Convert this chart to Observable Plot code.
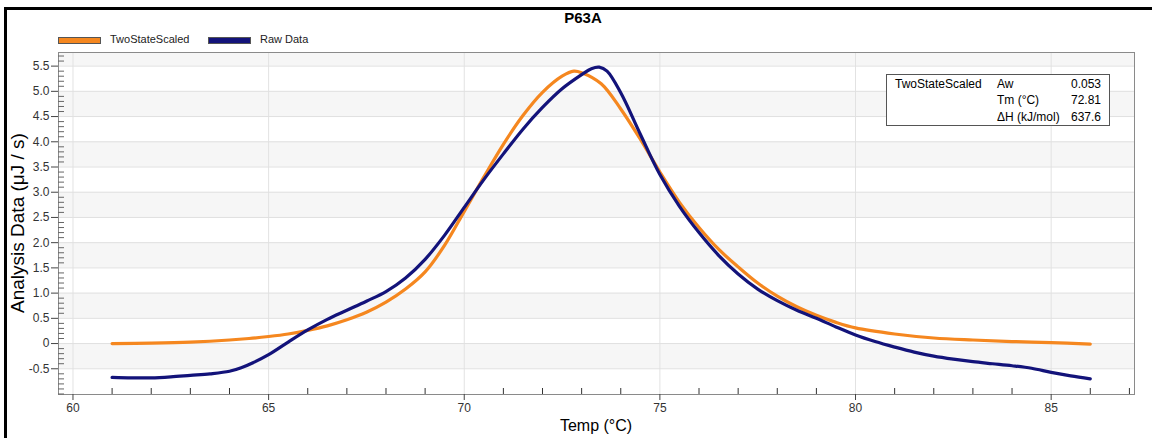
<!DOCTYPE html>
<html>
<head>
<meta charset="utf-8">
<script src="https://cdn.jsdelivr.net/npm/d3@7"></script>
<script src="https://cdn.jsdelivr.net/npm/@observablehq/plot@0.6"></script>
<style>
  html, body { margin: 0; padding: 0; background: #fff; }
  body { font-family: "Liberation Sans", Arial, sans-serif; }
  #wrap { position: relative; width: 1152px; height: 438px; overflow: hidden; }
  #wrap svg { position: absolute; left: 0; top: 0; }
  .ov { position: absolute; white-space: nowrap; color: #000; }
</style>
</head>
<body>
<div id="wrap"></div>
<script>
// ---- data ----
const title = "P63A";
const seriesNames = ["TwoStateScaled", "Raw Data"];
const seriesColors = ["#f5871f", "#13137a"];

const fitTemp = [61, 62, 63, 64, 64.5, 65, 65.5, 66, 66.5, 67, 67.5, 68, 68.5, 69, 69.5, 70, 70.5, 71, 71.5, 72, 72.5, 72.8, 73, 73.5, 74, 74.5, 75, 75.5, 76, 76.5, 77, 77.5, 78, 78.5, 79, 79.5, 80, 81, 82, 83, 84, 85, 86];
const fitValue = [0.00, 0.01, 0.03, 0.07, 0.10, 0.14, 0.19, 0.26, 0.35, 0.47, 0.62, 0.82, 1.08, 1.42, 1.95, 2.62, 3.30, 3.95, 4.52, 4.98, 5.30, 5.40, 5.37, 5.15, 4.65, 4.05, 3.40, 2.80, 2.30, 1.87, 1.52, 1.20, 0.94, 0.73, 0.56, 0.42, 0.31, 0.19, 0.11, 0.07, 0.04, 0.02, -0.01];

const rawTemp = [61, 61.5, 62, 62.5, 63, 63.5, 64, 64.3, 64.6, 65, 65.5, 66, 66.5, 67, 67.5, 68, 68.5, 69, 69.5, 70, 70.5, 71, 71.5, 72, 72.5, 73, 73.25, 73.45, 73.65, 74, 74.5, 75, 75.5, 76, 76.5, 77, 77.5, 78, 78.5, 79, 79.5, 80, 80.5, 81, 81.5, 82, 82.5, 83, 83.5, 84, 84.5, 85, 85.5, 86];
const rawValue = [-0.67, -0.68, -0.68, -0.66, -0.63, -0.60, -0.55, -0.48, -0.38, -0.22, 0.03, 0.27, 0.48, 0.66, 0.84, 1.03, 1.30, 1.67, 2.15, 2.70, 3.25, 3.76, 4.25, 4.68, 5.05, 5.33, 5.45, 5.48, 5.40, 4.97, 4.15, 3.35, 2.72, 2.20, 1.75, 1.38, 1.08, 0.85, 0.66, 0.50, 0.33, 0.17, 0.04, -0.07, -0.17, -0.25, -0.31, -0.36, -0.40, -0.44, -0.49, -0.57, -0.64, -0.70];

const xMajorTicks = [60, 65, 70, 75, 80, 85];
const xMinorTicks = [61, 62, 63, 64, 66, 67, 68, 69, 71, 72, 73, 74, 76, 77, 78, 79, 81, 82, 83, 84, 86, 87];
const yMajorTicks = [-0.5, 0, 0.5, 1.0, 1.5, 2.0, 2.5, 3.0, 3.5, 4.0, 4.5, 5.0, 5.5];
const yMinorTicks = [-1.0, -0.9, -0.8, -0.7, -0.6, -0.4, -0.3, -0.2, -0.1, 0.1, 0.2, 0.3, 0.4, 0.6, 0.7, 0.8, 0.9, 1.1, 1.2, 1.3, 1.4, 1.6, 1.7, 1.8, 1.9, 2.1, 2.2, 2.3, 2.4, 2.6, 2.7, 2.8, 2.9, 3.1, 3.2, 3.3, 3.4, 3.6, 3.7, 3.8, 3.9, 4.1, 4.2, 4.3, 4.4, 4.6, 4.7, 4.8, 4.9, 5.1, 5.2, 5.3, 5.4, 5.6, 5.7];
const bandStarts = [-0.5, 0.5, 1.5, 2.5, 3.5, 4.5, 5.5];
const xDomain = [59.63, 87.13];
const yDomain = [-1.01, 5.77];

const xLabel = "Temp (°C)";
const yLabel = "Analysis Data (μJ / s)";
const infoRows = [
  ["TwoStateScaled", "Aw", "0.053"],
  ["", "Tm (°C)", "72.81"],
  ["", "ΔH (kJ/mol)", "637.6"]
];

// ---- build ----
const fitData = fitTemp.map((t, i) => ({t, v: fitValue[i], s: seriesNames[0]}));
const rawData = rawTemp.map((t, i) => ({t, v: rawValue[i], s: seriesNames[1]}));

const W = 1152, H = 438;
const mL = 58, mR = 18, mT = 52, mB = 44;
const innerW = W - mL - mR, innerH = H - mT - mB;

const chart = Plot.plot({
  width: W, height: H,
  marginLeft: mL, marginRight: mR, marginTop: mT, marginBottom: mB,
  style: {fontFamily: "'Liberation Sans', Arial, sans-serif", fontSize: "12px", color: "#333", background: "transparent"},
  x: {domain: xDomain},
  y: {domain: yDomain},
  marks: [
    Plot.rect(bandStarts, {y1: d => d, y2: d => d + 0.5, fill: "#f6f6f6", clip: true}),
    Plot.gridX(xMajorTicks, {stroke: "#e2e2e2", strokeOpacity: 1}),
    Plot.gridY(yMajorTicks, {stroke: "#e0e0e0", strokeOpacity: 1}),
    Plot.frame({stroke: "#8a8a8a"}),
    Plot.axisX(xMajorTicks, {tickSize: 6, tickPadding: 3, stroke: "#444", label: null, fontSize: 12, fill: "#333"}),
    Plot.axisY(yMajorTicks, {tickSize: 7, tickPadding: 2, stroke: "#444", label: null, fontSize: 12, fill: "#333",
      tickFormat: d => d === 0 ? "0" : d.toFixed(1)}),
    Plot.tickX(xMinorTicks, {x: d => d, stroke: "#333", insetTop: innerH - 6}),
    Plot.tickY(yMinorTicks, {y: d => d, stroke: "#666", insetRight: innerW - 6}),
    Plot.line(fitData, {x: "t", y: "v", stroke: seriesColors[0], strokeWidth: 3.2, curve: "catmull-rom"}),
    Plot.line(rawData, {x: "t", y: "v", stroke: seriesColors[1], strokeWidth: 3.2, curve: "catmull-rom"})
  ]
});

const wrap = document.getElementById("wrap");
wrap.appendChild(chart);

function ov(html, css) {
  const d = document.createElement("div");
  d.className = "ov";
  d.innerHTML = html;
  Object.assign(d.style, css);
  wrap.appendChild(d);
  return d;
}

// outer frame (top & left black lines)
ov("", {left: "4px", top: "7px", width: "1160px", height: "440px", borderTop: "3px solid #000", borderLeft: "3px solid #000", boxSizing: "border-box"});

// title
ov(title, {left: "0px", width: "1166px", top: "9px", textAlign: "center", fontWeight: "bold", fontSize: "15px"});

// legend
const legendX = [58, 208];
seriesNames.forEach((name, i) => {
  ov("", {left: legendX[i] + "px", top: "37px", width: "41px", height: "5px", background: seriesColors[i], border: "1px solid #555"});
  ov(name, {left: (legendX[i] + 52) + "px", top: "33px", fontSize: "11px", color: "#222"});
});

// axis labels
ov(xLabel, {left: mL + "px", width: innerW + "px", top: "417px", textAlign: "center", fontSize: "16px"});
ov(yLabel, {left: "-102px", top: (mT + innerH / 2 - 11) + "px", width: "240px", textAlign: "center", fontSize: "19px", transform: "rotate(-90deg)", transformOrigin: "50% 50%"});

// info box
const box = ov("", {left: "886px", top: "74px", width: "224px", height: "52px", border: "1px solid #555", background: "#fff", boxSizing: "border-box", fontSize: "12px"});
infoRows.forEach((r, i) => {
  const top = 2 + i * 16.3;
  const a = document.createElement("div"); a.textContent = r[0];
  Object.assign(a.style, {position: "absolute", left: "8px", top: top + "px"});
  const b = document.createElement("div"); b.textContent = r[1];
  Object.assign(b.style, {position: "absolute", left: "110px", top: top + "px"});
  const c = document.createElement("div"); c.textContent = r[2];
  Object.assign(c.style, {position: "absolute", right: "8px", top: top + "px"});
  box.append(a, b, c);
});
</script>
</body>
</html>
